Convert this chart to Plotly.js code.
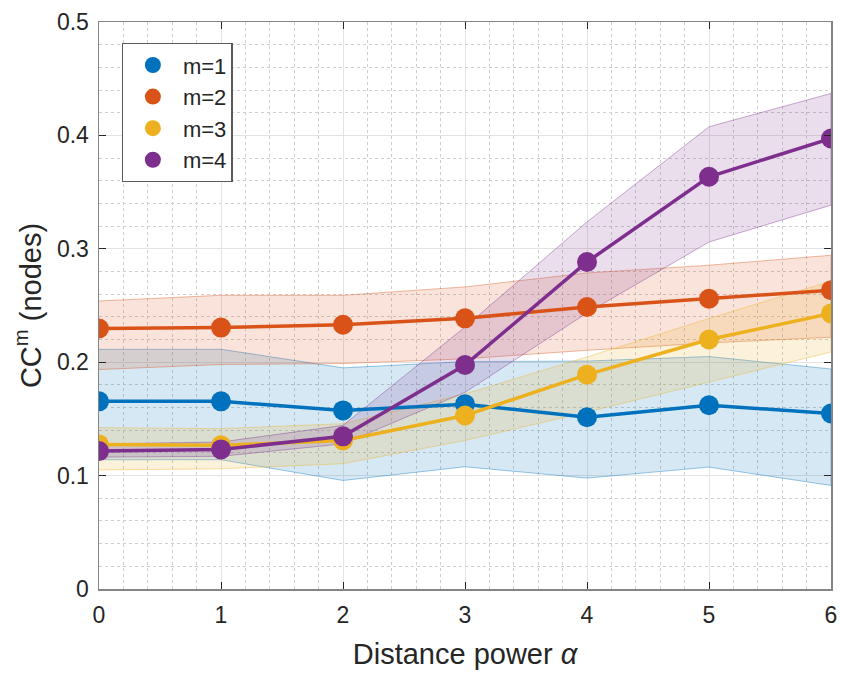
<!DOCTYPE html>
<html>
<head>
<meta charset="utf-8">
<script src="https://cdn.plot.ly/plotly-3.0.1.min.js"></script>
<style>html,body{margin:0;padding:0;background:#fff;}#chart{width:841px;height:677px;}</style>
</head>
<body>
<div id="chart"></div>
<script>
const alphaVals = [0, 1, 2, 3, 4, 5, 6];
const seriesNames = ['m=1', 'm=2', 'm=3', 'm=4'];

const mean1  = [0.1655, 0.1655, 0.1575, 0.163, 0.1515, 0.162, 0.1548];
const upper1 = [0.2114, 0.2114, 0.195, 0.2005, 0.201, 0.205, 0.194];
const lower1 = [0.114, 0.114, 0.0957, 0.1078, 0.0978, 0.1075, 0.0913];

const mean2  = [0.2297, 0.2305, 0.233, 0.2387, 0.2487, 0.256, 0.2635];
const upper2 = [0.254, 0.259, 0.259, 0.2664, 0.2787, 0.2855, 0.2943];
const lower2 = [0.1935, 0.198, 0.1988, 0.203, 0.2105, 0.217, 0.222];

const mean3  = [0.1275, 0.1267, 0.131, 0.153, 0.189, 0.22, 0.243];
const upper3 = [0.1423, 0.1414, 0.1458, 0.172, 0.2046, 0.2385, 0.2715];
const lower3 = [0.105, 0.106, 0.1105, 0.131, 0.156, 0.1825, 0.209];

const mean4  = [0.1216, 0.1231, 0.1346, 0.1975, 0.2884, 0.3635, 0.3973];
const upper4 = [0.128, 0.1296, 0.1443, 0.231, 0.3237, 0.4076, 0.437];
const lower4 = [0.1163, 0.117, 0.128, 0.1735, 0.2434, 0.306, 0.3385];

const xTickVals = [0, 1, 2, 3, 4, 5, 6];
const yTickVals = [0, 0.1, 0.2, 0.3, 0.4, 0.5];

const means = [mean1, mean2, mean3, mean4];
const uppers = [upper1, upper2, upper3, upper4];
const lowers = [lower1, lower2, lower3, lower4];
const rgb = ['0,114,189', '217,83,25', '237,177,32', '126,47,142'];

const traces = [];
for (let i = 0; i < 4; i++) {
  const xs = alphaVals.concat(alphaVals.slice().reverse());
  const ys = uppers[i].concat(lowers[i].slice().reverse());
  traces.push({
    x: xs, y: ys, type: 'scatter', mode: 'lines', fill: 'toself',
    fillcolor: 'rgba(' + rgb[i] + ',0.16)',
    line: {color: 'rgba(' + rgb[i] + ',0.4)', width: 1},
    showlegend: false, hoverinfo: 'skip'
  });
}
for (let i = 0; i < 4; i++) {
  traces.push({
    x: alphaVals, y: means[i], type: 'scatter', mode: 'lines',
    line: {color: 'rgb(' + rgb[i] + ')', width: 3.5},
    showlegend: false, legendgroup: 'g' + i
  });
  traces.push({
    x: alphaVals, y: means[i], type: 'scatter', mode: 'markers',
    name: seriesNames[i], legendgroup: 'g' + i,
    marker: {color: 'rgb(' + rgb[i] + ')', size: 20}
  });
}

const FONT = 'Liberation Sans, Arial, Helvetica, sans-serif';
const axisCommon = {
  showline: true, mirror: 'ticks', linecolor: '#858585', linewidth: 1.5,
  ticks: 'inside', ticklen: 7, tickcolor: '#262626', tickwidth: 1,
  showgrid: true, gridcolor: '#e3e3e3', gridwidth: 1,
  zeroline: false,
  tickfont: {family: FONT, size: 23, color: '#262626'}
};

const layout = {
  width: 841, height: 677,
  margin: {l: 99, r: 10, t: 22, b: 88},
  paper_bgcolor: '#ffffff', plot_bgcolor: '#ffffff',
  font: {family: FONT, color: '#262626'},
  xaxis: Object.assign({}, axisCommon, {
    range: [0, 6], tickvals: xTickVals, ticklabelstandoff: 5,
    minor: {dtick: 0.2, showgrid: true, griddash: 'dot', gridcolor: '#cdcdcd', gridwidth: 1, ticks: ''},
    title: {text: 'Distance power <i>α</i>', font: {family: FONT, size: 29, color: '#262626'}, standoff: 16}
  }),
  yaxis: Object.assign({}, axisCommon, {
    range: [0, 0.5], tickvals: yTickVals, ticklabelstandoff: 4,
    minor: {dtick: 0.02, showgrid: true, griddash: 'dot', gridcolor: '#cdcdcd', gridwidth: 1, ticks: ''},
    title: {text: 'CC<sup>m</sup> (nodes)', font: {family: FONT, size: 29, color: '#262626'}, standoff: 7}
  }),
  legend: {
    x: 0.031, y: 0.963, xanchor: 'left', yanchor: 'top',
    bgcolor: '#ffffff', bordercolor: '#5a5a5a', borderwidth: 1.2,
    font: {family: FONT, size: 22, color: '#262626'}, tracegroupgap: 0, traceorder: 'normal',
    itemwidth: 50
  }
};

Plotly.newPlot('chart', traces, layout, {displayModeBar: false, staticPlot: true});
</script>
</body>
</html>
